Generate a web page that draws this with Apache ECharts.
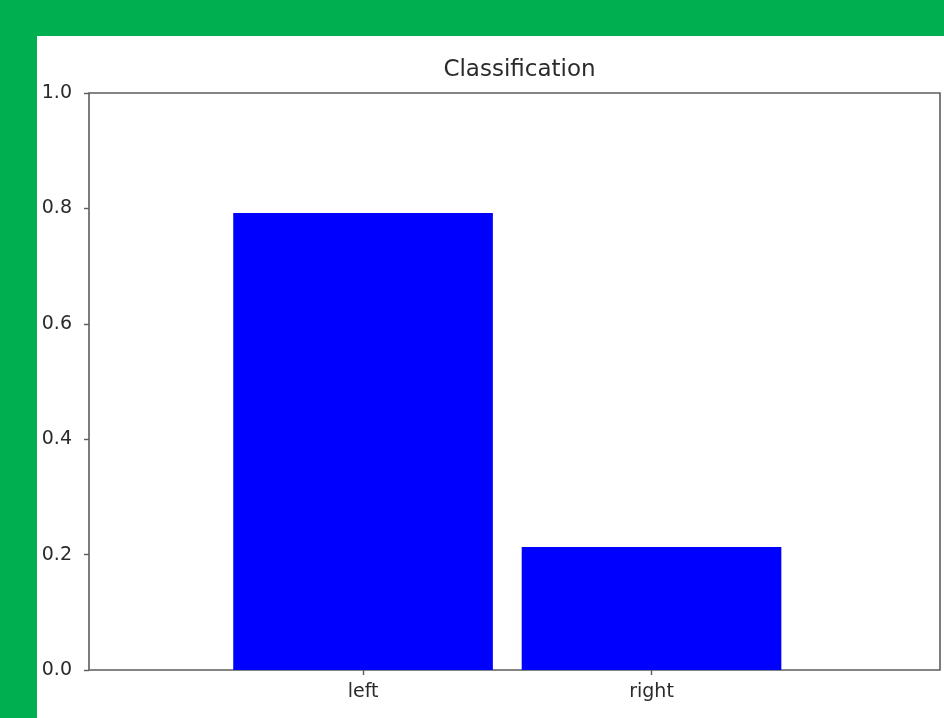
<!DOCTYPE html>
<html>
<head>
<meta charset="utf-8">
<script src="https://cdn.jsdelivr.net/npm/echarts@6/dist/echarts.min.js"></script>
<style>
  html, body { margin: 0; padding: 0; width: 944px; height: 718px; overflow: hidden; background: #00b050; }
  #paper { position: absolute; left: 37px; top: 36px; width: 907px; height: 682px; background: #ffffff; }
  #chart { position: absolute; left: 0; top: 0; width: 944px; height: 718px; }
</style>
</head>
<body>
<div id="paper"></div>
<div id="chart"></div>
<script>
// Class labels and their predicted probabilities
const categories = ['left', 'right'];
const probabilities = [0.792, 0.213];
const yTicks = [0, 0.2, 0.4, 0.6, 0.8, 1.0];

const chart = echarts.init(document.getElementById('chart'), null, { renderer: 'canvas' });

const textColor = '#2a2a2a';
const spineColor = '#5c5c5c';
const font = 'DejaVu Sans';

chart.setOption({
  backgroundColor: 'transparent',
  animation: false,
  title: {
    text: 'Classification',
    left: 514.5,
    textAlign: 'center',
    top: 54,
    textStyle: { fontFamily: font, fontSize: 23, fontWeight: 'normal', color: textColor }
  },
  grid: {
    left: 89, top: 93, width: 851, height: 577,
    show: true, borderColor: spineColor, borderWidth: 1.6, backgroundColor: 'transparent'
  },
  xAxis: {
    type: 'value',
    min: -0.95,
    max: 2.0,
    splitLine: { show: false },
    axisLine: { show: false, onZero: false },
    axisTick: { show: true, length: 5, customValues: categories.map((c, i) => i),
                lineStyle: { color: spineColor, width: 1.4 } },
    axisLabel: {
      customValues: categories.map((c, i) => i),
      formatter: v => categories[Math.round(v)] || '',
      margin: 13,
      fontFamily: font, fontSize: 19, color: textColor
    }
  },
  yAxis: {
    type: 'value',
    min: 0,
    max: 1,
    interval: 0.2,
    splitLine: { show: false },
    axisLine: { show: false, onZero: false },
    axisTick: { show: true, length: 5, customValues: yTicks,
                lineStyle: { color: spineColor, width: 1.4 } },
    axisLabel: {
      customValues: yTicks,
      formatter: v => v.toFixed(1),
      margin: 17,
      fontFamily: font, fontSize: 19, color: textColor
    }
  },
  series: [{
    type: 'bar',
    data: probabilities.map((p, i) => [i, p]),
    barWidth: '90%',
    itemStyle: { color: '#0000ff' }
  }]
});
</script>
</body>
</html>
